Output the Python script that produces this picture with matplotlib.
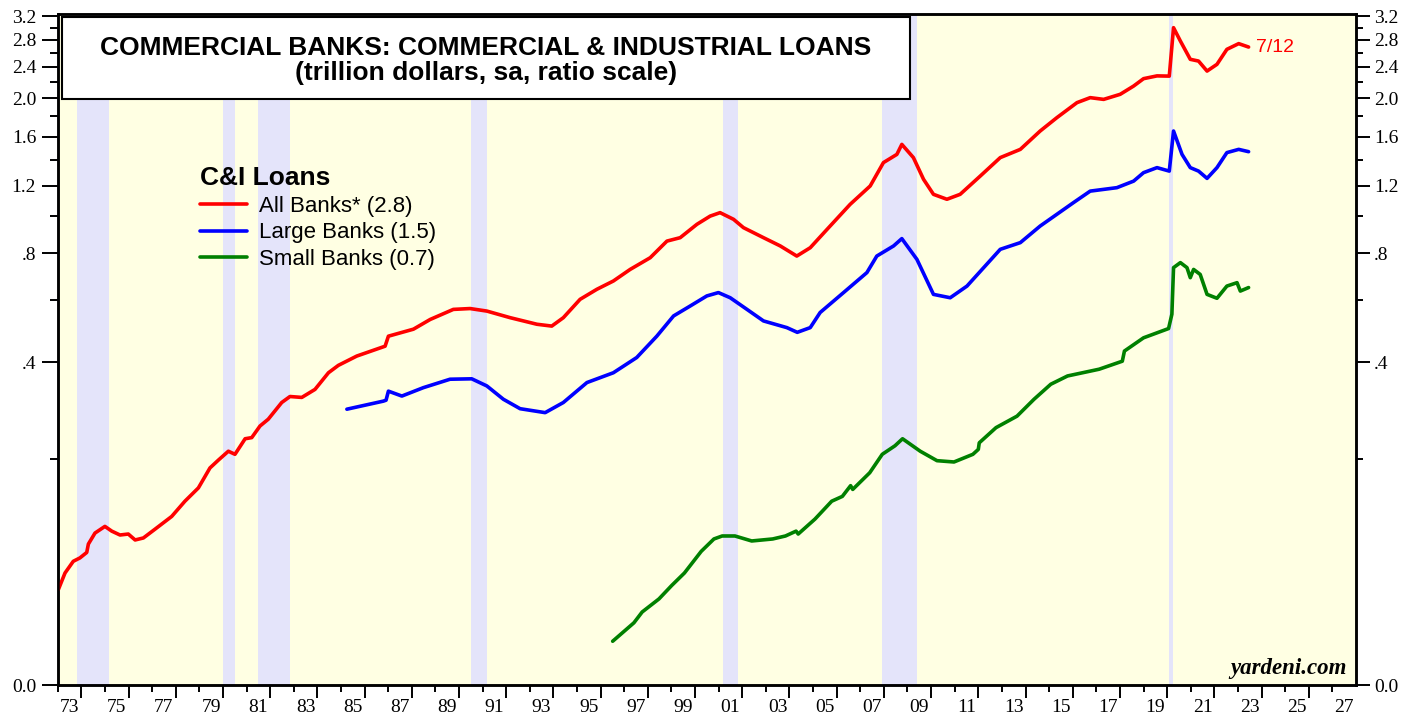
#!/usr/bin/env python

import matplotlib
matplotlib.use('Agg')
import matplotlib.pyplot as plt
from matplotlib.patches import Rectangle
import numpy as np

# C&I loans, trillion dollars (decimal years)
all_years = [1973.03, 1973.31, 1973.66, 1973.94, 1974.23, 1974.30, 1974.58, 1975.00, 1975.29, 1975.64,
             1975.99, 1976.28, 1976.63, 1977.12, 1977.83, 1978.39, 1978.96, 1979.45, 1979.81, 1980.23,
             1980.51, 1980.94, 1981.22, 1981.57, 1981.92, 1982.49, 1982.84, 1983.34, 1983.90, 1984.47,
             1984.89, 1985.67, 1986.87, 1987.01, 1988.07, 1988.78, 1989.76, 1990.47, 1991.18, 1992.17,
             1993.30, 1993.93, 1994.42, 1995.13, 1995.84, 1996.54, 1997.25, 1998.10, 1998.81, 1999.37,
             2000.08, 2000.64, 2001.06, 2001.63, 2002.05, 2002.90, 2003.61, 2004.31, 2004.88, 2005.59,
             2006.57, 2007.42, 2007.98, 2008.55, 2008.76, 2009.25, 2009.68, 2010.10, 2010.67, 2011.23,
             2012.08, 2012.93, 2013.78, 2014.62, 2015.33, 2016.18, 2016.74, 2017.31, 2018.01, 2018.58,
             2019.00, 2019.57, 2020.09, 2020.27, 2020.56, 2020.98, 2021.33, 2021.69, 2022.11, 2022.53,
             2023.03, 2023.45]
all_vals = [0.056, 0.069, 0.079, 0.082, 0.087, 0.095, 0.106, 0.113, 0.108, 0.104,
            0.105, 0.099, 0.101, 0.110, 0.124, 0.142, 0.159, 0.187, 0.199, 0.213,
            0.208, 0.234, 0.236, 0.257, 0.270, 0.304, 0.317, 0.315, 0.333, 0.373,
            0.392, 0.417, 0.445, 0.475, 0.497, 0.529, 0.564, 0.567, 0.558, 0.535,
            0.513, 0.507, 0.535, 0.601, 0.640, 0.674, 0.724, 0.778, 0.861, 0.879,
            0.953, 1.001, 1.022, 0.982, 0.934, 0.879, 0.836, 0.786, 0.827, 0.924,
            1.074, 1.198, 1.375, 1.443, 1.530, 1.416, 1.246, 1.140, 1.107, 1.140,
            1.270, 1.416, 1.486, 1.654, 1.788, 1.950, 2.007, 1.987, 2.046, 2.146,
            2.239, 2.275, 2.272, 2.998, 2.778, 2.502, 2.477, 2.339, 2.431, 2.649,
            2.737, 2.684]

large_years = [1985.25, 1986.80, 1986.91, 1987.01, 1987.58, 1988.49, 1989.62, 1990.54, 1991.18, 1991.88,
               1992.59, 1993.65, 1994.42, 1995.42, 1996.54, 1997.53, 1998.38, 1999.09, 1999.79, 2000.50,
               2000.99, 2001.49, 2002.20, 2002.90, 2003.89, 2004.33, 2004.88, 2005.30, 2006.29, 2007.28,
               2007.70, 2008.41, 2008.76, 2009.40, 2010.10, 2010.81, 2011.52, 2012.93, 2013.78, 2014.62,
               2016.03, 2016.74, 2017.87, 2018.58, 2019.00, 2019.57, 2020.09, 2020.27, 2020.63, 2020.98,
               2021.33, 2021.69, 2022.11, 2022.53, 2023.03, 2023.45]
large_vals = [0.290, 0.307, 0.309, 0.329, 0.318, 0.337, 0.357, 0.358, 0.341, 0.311,
              0.291, 0.283, 0.304, 0.349, 0.373, 0.413, 0.475, 0.541, 0.576, 0.614,
              0.627, 0.607, 0.564, 0.524, 0.502, 0.487, 0.502, 0.553, 0.627, 0.710,
              0.786, 0.836, 0.874, 0.770, 0.620, 0.607, 0.653, 0.819, 0.853, 0.943,
              1.085, 1.162, 1.186, 1.233, 1.296, 1.335, 1.308, 1.654, 1.443, 1.335,
              1.308, 1.253, 1.335, 1.458, 1.486, 1.466]

small_years = [1996.51, 1997.41, 1997.76, 1998.47, 1999.01, 1999.55, 2000.26, 2000.80, 2001.15, 2001.69,
               2002.40, 2003.29, 2003.83, 2004.28, 2004.37, 2005.08, 2005.79, 2006.24, 2006.59, 2006.68,
               2007.40, 2007.93, 2008.47, 2008.79, 2009.54, 2010.25, 2010.97, 2011.77, 2012.00, 2012.04,
               2012.75, 2013.64, 2014.36, 2015.07, 2015.78, 2017.12, 2018.10, 2018.19, 2019.00, 2020.06,
               2020.20, 2020.27, 2020.56, 2020.84, 2020.98, 2021.12, 2021.40, 2021.69, 2022.11, 2022.53,
               2022.96, 2023.10, 2023.45]
small_vals = [0.022, 0.033, 0.040, 0.049, 0.059, 0.069, 0.088, 0.100, 0.103, 0.103,
              0.098, 0.100, 0.103, 0.108, 0.105, 0.121, 0.142, 0.148, 0.162, 0.157,
              0.180, 0.208, 0.222, 0.234, 0.213, 0.198, 0.196, 0.208, 0.216, 0.227,
              0.254, 0.276, 0.311, 0.345, 0.365, 0.382, 0.403, 0.431, 0.470, 0.499,
              0.547, 0.732, 0.755, 0.732, 0.688, 0.724, 0.702, 0.620, 0.605, 0.653,
              0.667, 0.633, 0.647]

series_labels = ['All Banks* (2.8)', 'Large Banks (1.5)', 'Small Banks (0.7)']
series_colors = ['#ff0000', '#0000ff', '#008000']

# recessions
rec_start = [1973.83, 1980.00, 1981.50, 1990.50, 2001.17, 2007.92, 2020.08]
rec_end = [1975.17, 1980.50, 1982.83, 1991.17, 2001.83, 2009.42, 2020.25]

ytick_vals = [0.0, 0.4, 0.8, 1.2, 1.6, 2.0, 2.4, 2.8, 3.2]
ytick_labels = ['0.0', '.4', '.8', '1.2', '1.6', '2.0', '2.4', '2.8', '3.2']
yminor_vals = [0.2, 0.6, 1.0, 1.4, 1.8, 2.2, 2.6, 3.0]
label_years = list(range(1973, 2028, 2))
year_labels = ['%02d' % (y % 100) for y in label_years]

title1 = 'COMMERCIAL BANKS: COMMERCIAL & INDUSTRIAL LOANS'
title2 = '(trillion dollars, sa, ratio scale)'
last_date = '7/12'

SANS = 'Liberation Sans'
SERIF = 'Liberation Serif'


def fwd(v):
    return np.log(np.clip(v, -0.079, None) + 0.08)


def inv(v):
    return np.exp(v) - 0.08


fig = plt.figure(figsize=(14.19, 7.15), dpi=100)
ax = fig.add_axes([57.7 / 1419, 30 / 715, 1298.3 / 1419, 671.5 / 715])
ax.set_facecolor('#ffffe3')
ax.set_yscale('function', functions=(fwd, inv))
ax.set_xlim(1973, 2028)
ax.set_ylim(0, 3.25)

for s, e in zip(rec_start, rec_end):
    ax.axvspan(s, e, color='#e4e4fa', lw=0, zorder=0.5)

lines = []
for yrs, vals, lab, col in zip([all_years, large_years, small_years],
                               [all_vals, large_vals, small_vals],
                               series_labels, series_colors):
    ln, = ax.plot(yrs, vals, color=col, lw=2.6, label=lab,
                  solid_capstyle='round', solid_joinstyle='round', zorder=3)
    lines.append(ln)

ax.annotate(last_date, xy=(all_years[-1], all_vals[-1]), xytext=(5.5, 0),
            textcoords='offset points', va='center', ha='left',
            color=series_colors[0], fontsize=14, family=SANS)

# title box
ax.add_patch(Rectangle((0.0033, 0.8727), 0.6532, 0.1221, transform=ax.transAxes,
                       facecolor='white', edgecolor='black', lw=1.5, zorder=5))
ax.text(0.3299, 0.9382, title1, transform=ax.transAxes, ha='center', va='baseline',
        fontsize=19, weight='bold', family=SANS, zorder=6)
ax.text(0.3299, 0.9010, title2, transform=ax.transAxes, ha='center', va='baseline',
        fontsize=19, weight='bold', family=SANS, zorder=6)

leg = ax.legend(handles=lines, title='C&I Loans', loc='upper left',
                bbox_to_anchor=(0.1096, 0.7725), frameon=False, alignment='left',
                prop={'family': SANS, 'size': 16},
                title_fontproperties={'family': SANS, 'weight': 'bold', 'size': 19},
                handlelength=2.1, handletextpad=0.55, labelspacing=0.25,
                borderpad=0, borderaxespad=0)
for h in leg.legend_handles:
    h.set_linewidth(2.6)

ax.text(0.993, 0.0164, 'yardeni.com', transform=ax.transAxes, ha='right', va='baseline',
        fontsize=16.5, weight='bold', style='italic', family=SERIF)

# x axis: labels mid-year, short ticks at odd years, long ticks at even years
ax.set_xticks([y + 0.5 for y in label_years], year_labels)
ax.set_xticks(label_years, minor=True)
ax.tick_params(axis='x', which='major', length=0, pad=10)
ax.tick_params(axis='x', which='minor', length=5, width=1.4)
for t in ax.get_xticklabels():
    t.set_family(SERIF)
    t.set_fontsize(14)
sec = ax.secondary_xaxis('bottom')
sec.set_xticks(list(range(1974, 2028, 2)))
sec.tick_params(length=9.5, width=1.4, labelbottom=False)
sec.spines['bottom'].set_visible(False)

# y axes both sides
ax.set_yticks(ytick_vals, ytick_labels)
ax.set_yticks(yminor_vals, minor=True)
ax.tick_params(axis='y', which='major', length=11.5, width=1.4, pad=4, labelsize=14)
ax.tick_params(axis='y', which='minor', length=5.5, width=1.4)
for t in ax.get_yticklabels():
    t.set_family(SERIF)

ax2 = ax.twinx()
ax2.set_yscale('function', functions=(fwd, inv))
ax2.set_ylim(0, 3.25)
ax2.set_yticks(ytick_vals, ytick_labels)
ax2.set_yticks(yminor_vals, minor=True)
ax2.tick_params(axis='y', which='major', length=10, width=1.4, pad=3, labelsize=14)
ax2.tick_params(axis='y', which='minor', length=5, width=1.4)
for t in ax2.get_yticklabels():
    t.set_family(SERIF)

for a in (ax, ax2):
    for sp in a.spines.values():
        sp.set_linewidth(1.8)

fig.savefig('out.png', dpi=100)
